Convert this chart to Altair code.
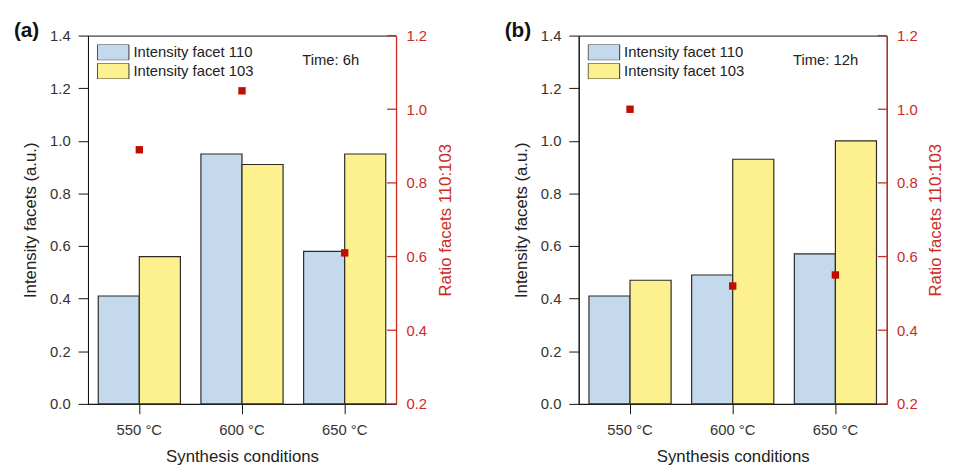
import altair as alt
import pandas as pd

# ---------------- data ----------------
categories = ["550 °C", "600 °C", "650 °C"]
series = ["Intensity facet 110", "Intensity facet 103"]

int110_a = [0.41, 0.95, 0.58]
int103_a = [0.56, 0.91, 0.95]
ratio_a = [0.89, 1.05, 0.61]

int110_b = [0.41, 0.49, 0.57]
int103_b = [0.47, 0.93, 1.00]
ratio_b = [1.00, 0.52, 0.55]

left_ticks = [0.0, 0.2, 0.4, 0.6, 0.8, 1.0, 1.2, 1.4]
right_ticks = [0.2, 0.4, 0.6, 0.8, 1.0, 1.2]
panel_labels = ["(a)", "(b)"]
time_labels = ["Time: 6h", "Time: 12h"]

# ---------------- style ----------------
FONT = "Liberation Sans"
BLUE = "#c5d9ed"
YELLOW = "#fdf08f"
RED_AX = "#cc2b1f"
RED_PT = "#c00d00"
W, H = 312, 373


def panel(label, time_text, i110, i103, ratio):
    bars_df = pd.DataFrame({
        "cond": categories * 2,
        "series": [series[0]] * 3 + [series[1]] * 3,
        "value": i110 + i103,
    })
    x_enc = alt.X(
        "cond:N", sort=categories,
        scale=alt.Scale(paddingInner=0.2, paddingOuter=0.1),
        axis=alt.Axis(title="Synthesis conditions", labelAngle=0, tickSize=10,
                      labelPadding=9, titlePadding=11, domainColor="#111",
                      tickColor="#111"),
    )
    bars = alt.Chart(bars_df).mark_bar(stroke="#2b2b2b", strokeWidth=1.2).encode(
        x=x_enc,
        xOffset=alt.XOffset("series:N", sort=series,
                            scale=alt.Scale(paddingInner=0, paddingOuter=0)),
        y=alt.Y("value:Q", scale=alt.Scale(domain=[0, 1.4], nice=False),
                axis=alt.Axis(title="Intensity facets (a.u.)", values=left_ticks,
                              format=".1f", tickSize=10, labelPadding=8,
                              titlePadding=10, domainColor="#111",
                              tickColor="#111")),
        color=alt.Color(
            "series:N", sort=series,
            scale=alt.Scale(domain=series, range=[BLUE, YELLOW]),
            legend=alt.Legend(title=None, orient="top-left", offset=9, padding=0,
                              symbolType="M-1,-0.5L1,-0.5L1,0.5L-1,0.5Z",
                              symbolSize=1024, symbolStrokeColor="#333",
                              symbolStrokeWidth=1, symbolOpacity=1,
                              labelFontSize=15, labelFont=FONT,
                              labelColor="#222", labelOffset=4,
                              rowPadding=3, clipHeight=16),
        ),
    )

    ratio_axis = alt.Axis(orient="right", title="Ratio facets 110:103",
                          values=right_ticks, format=".1f", tickSize=0,
                          labelPadding=10, titlePadding=11, titleAngle=270,
                          titleBaseline="top",
                          domainColor=RED_AX, labelColor=RED_AX,
                          titleColor=RED_AX, domainWidth=1.3, zindex=2)
    ratio_scale = alt.Scale(domain=[0.2, 1.2], nice=False, zero=False)

    ratio_df = pd.DataFrame({"cond": categories, "ratio": ratio})
    pts = alt.Chart(ratio_df).mark_square(size=56, color=RED_PT, opacity=1).encode(
        x=alt.X("cond:N", sort=categories),
        y=alt.Y("ratio:Q", scale=ratio_scale, axis=ratio_axis),
    )
    tick_df = pd.DataFrame({"ratio": right_ticks})
    rticks = alt.Chart(tick_df).mark_rule(color=RED_AX, strokeWidth=1.3).encode(
        y=alt.Y("ratio:Q", scale=ratio_scale, axis=ratio_axis),
        x=alt.value(W - 9),
        x2=alt.value(W),
    )

    txt = alt.Chart(pd.DataFrame({"t": [time_text]})).mark_text(
        align="left", baseline="middle", fontSize=15, font=FONT, color="#222"
    ).encode(x=alt.value(217), y=alt.value(25), text="t:N")

    lab = alt.Chart(pd.DataFrame({"t": [label]})).mark_text(
        align="left", baseline="alphabetic", fontSize=21, fontWeight="bold",
        font=FONT, color="#111"
    ).encode(x=alt.value(-75), y=alt.value(1), text="t:N")

    return alt.layer(bars, alt.layer(rticks, pts), txt, lab).resolve_scale(
        y="independent"
    ).properties(width=W, height=H)


pa = panel(panel_labels[0], time_labels[0], int110_a, int103_a, ratio_a)
pb = panel(panel_labels[1], time_labels[1], int110_b, int103_b, ratio_b)

chart = alt.hconcat(pa, pb, spacing=50).resolve_scale(
    color="independent"
).resolve_legend(color="independent").properties(
    padding={"left": 5, "top": 8, "right": 0, "bottom": 0}
).configure_view(
    stroke="#111", strokeWidth=1
).configure_axis(
    grid=False, labelFont=FONT, titleFont=FONT, labelFontSize=15,
    titleFontSize=17, titleFontWeight="normal", labelColor="#333",
    titleColor="#222"
)

chart.save("out.html", embed_options={"renderer": "svg", "actions": False})
